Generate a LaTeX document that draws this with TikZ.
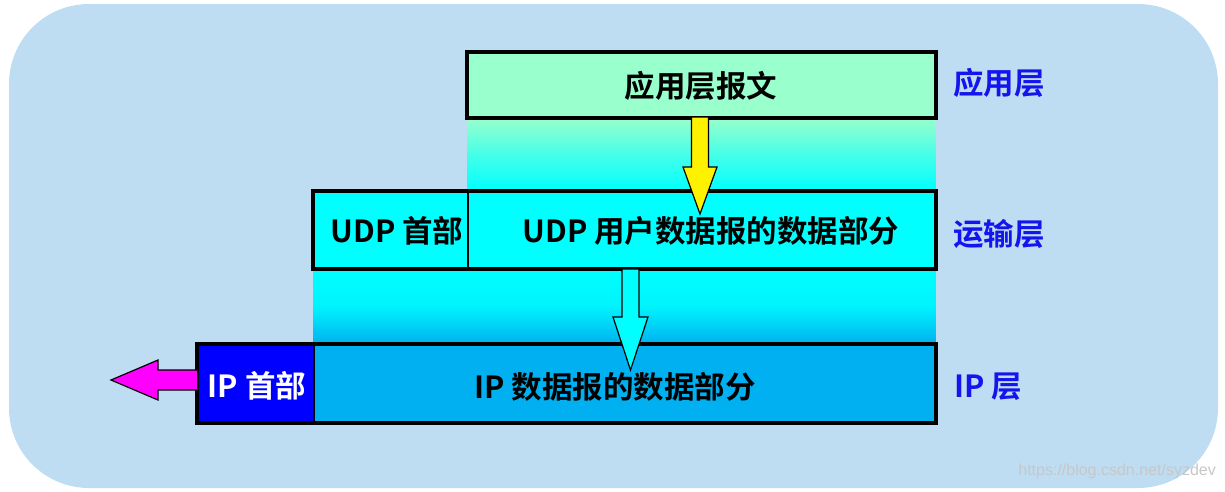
\documentclass[tikz,border=0pt]{standalone}
\usepackage{fontspec}
\setmainfont{Noto Sans CJK SC}[BoldFont={Noto Sans CJK SC Bold}]
\newfontfamily\wmfont{Liberation Sans}
\definecolor{bgblue}{HTML}{BEDDF2}
\definecolor{appgreen}{HTML}{99FFCC}
\definecolor{cyanc}{HTML}{00FFFF}
\definecolor{ipdatac}{HTML}{00B0F0}
\definecolor{ipheadc}{HTML}{0000FF}
\definecolor{labelblue}{HTML}{1414EE}
\definecolor{magentac}{HTML}{FF00FF}
\begin{document}
\begin{tikzpicture}[x=1pt,y=-1pt,
  cell/.style={rectangle, inner sep=0pt, draw=black, line width=1.6pt},
  txt/.style={inner sep=0pt, font=\fontsize{30.5}{32}\selectfont\bfseries},
  layer/.style={txt, anchor=west, text=labelblue},
  outline/.style={draw=black, line width=3.6pt},
  blockarrow/.style={draw=black, line width=1.2pt, line join=miter}
]
\useasboundingbox (0,0) rectangle (1225,491);
\fill[bgblue, rounded corners=80pt] (9,4) rectangle (1218,488);

% boxes (fills)
\node[cell, fill=appgreen, minimum width=467pt, minimum height=64pt] (app) at (701.5,85) {};
\node[cell, fill=cyanc, minimum width=154pt, minimum height=76pt] (udphdr) at (391,230) {};
\node[cell, fill=cyanc, minimum width=467pt, minimum height=76pt] (udpdata) at (701.5,230) {};
\node[cell, fill=ipheadc, minimum width=116pt, minimum height=77pt] (iphdr) at (256,383.5) {};
\node[cell, fill=ipdatac, minimum width=621pt, minimum height=77pt] (ipdata) at (624.5,383.5) {};

% gradient bands
\shade[top color=appgreen, bottom color=cyanc, middle color=appgreen!45!cyanc] (app.south west) rectangle (udpdata.north east);
\shade[top color=cyanc, bottom color=ipdatac, middle color=cyanc!85!ipdatac] (udphdr.south west) rectangle (ipdata.north east);

% outlines
\draw[outline] (app.north west) rectangle (app.south east);
\draw[outline] (udphdr.north west) rectangle (udpdata.south east);
\draw[outline] (iphdr.north west) rectangle (ipdata.south east);

% texts
\node[txt] (tapp) at (701,86) {应用层报文};
\node[txt] (tudph) at (397,231) {UDP 首部};
\node[txt] (tudpd) at (711,231) {UDP 用户数据报的数据部分};
\node[txt, text=white] (tiph) at (257,386) {IP 首部};
\node[txt] (tipd) at (615,387) {IP 数据报的数据部分};

% layer labels
\node[layer] (lapp) at (953,83) {应用层};
\node[layer] (ltrans) at (953,234) {运输层};
\node[layer] (lip) at (954,387) {IP 层};

% block arrows
\draw[blockarrow, fill=yellow] (691.5,117) -- (691.5,167) -- (683,167) -- (700,214) -- (717,167) -- (708.5,167) -- (708.5,117) -- cycle;
\draw[blockarrow, fill=cyanc] (622,269) -- (622,317) -- (613,317) -- (630.5,370) -- (648,317) -- (639,317) -- (639,269) -- cycle;
\draw[blockarrow, fill=magentac] (iphdr.west |- 0,370) -- (158,370) -- (158,360) -- (111,380) -- (158,400) -- (158,390) -- (iphdr.west |- 0,390);

% watermark
\node[inner sep=0pt, anchor=east, text=black!22, font=\wmfont\fontsize{16}{18}\selectfont] (wm) at (1216,471) {https://blog.csdn.net/syzdev};
\end{tikzpicture}
\end{document}
